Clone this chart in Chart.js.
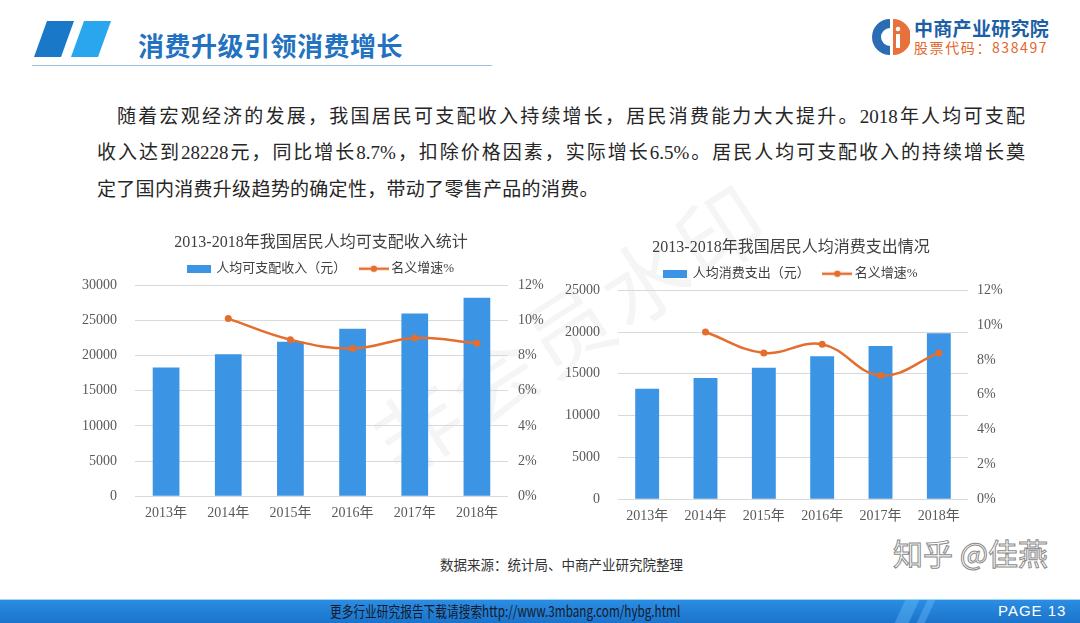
<!DOCTYPE html>
<html>
<head>
<meta charset="utf-8">
<script src="https://cdn.jsdelivr.net/npm/chart.js@4.4.1/dist/chart.umd.min.js"></script>
<style>
  body { margin: 0; width: 1080px; height: 623px; overflow: hidden; background: #fff; position: relative; font-family: "Noto Sans CJK SC", sans-serif; }
  .abs { position: absolute; white-space: nowrap; }
  .headTitle { left: 138px; top: 29px; font-size: 26px; line-height: 32px; font-weight: bold; color: #2272c0; letter-spacing: 0.5px; }
  .headLine { left: 32px; top: 65px; width: 460px; height: 1px; background: #9cc3e3; }
  .logoName { left: 914px; top: 16px; font-size: 19px; line-height: 24px; font-weight: bold; color: #1d5fa6; letter-spacing: 0.3px; }
  .logoCode { left: 914px; top: 38px; font-size: 14px; line-height: 18px; color: #e2672a; letter-spacing: 1.6px; }
  .para { font-family: "Liberation Serif", "Noto Sans CJK SC", serif; font-size: 19px; line-height: 24px; color: #262626; }
  .justify { text-align: justify; text-align-last: justify; white-space: normal; }
  .wm { left: 345px; top: 395px; font-size: 86px; color: rgba(0,0,0,0.04); transform: rotate(-33deg); transform-origin: left top; letter-spacing: 4px; }
  .src { left: 440px; top: 557px; font-family: "Liberation Serif", "Noto Sans CJK SC", serif; font-size: 13.5px; line-height: 18px; color: #333; }
  .zhihu { left: 893px; top: 533px; font-size: 30px; line-height: 38px; color: #fff; -webkit-text-stroke: 1px #8a8a8a; }
  .footer { left: 0; top: 599px; width: 1080px; height: 24px; background: linear-gradient(#2b8de2, #1a72c9); border-top: 1px solid #9fd8f7; }
  .stripe { top: 600px; height: 23px; background: rgba(120,200,255,0.35); transform: skewX(-25deg); }
  .footText { left: 330px; top: 601px; font-size: 15px; line-height: 20px; color: #141a2a; transform: scaleX(0.78); transform-origin: left top; }
  .page { left: 998px; top: 601px; font-family: "Liberation Sans", sans-serif; font-size: 15px; line-height: 20px; color: #fff; letter-spacing: 1px; }
  canvas { position: absolute; }
</style>
</head>
<body>

<svg class="abs" style="left:0;top:0" width="120" height="64">
  <polygon points="47,21 74,21 61,57 34,57" fill="#1a78c9"/>
  <polygon points="84,21 111,21 98,57 71,57" fill="#2aa6ee"/>
</svg>
<div class="abs headTitle">消费升级引领消费增长</div>
<div class="abs headLine"></div>

<svg class="abs" style="left:872px;top:16px" width="38" height="42" viewBox="0 0 38 42">
  <path d="M18 3 A18 18 0 0 0 18 39 L18 30 A9 9 0 0 1 18 12 Z" fill="#2a6db5"/>
  <path d="M21 3 A18 18 0 0 1 21 39 Z" fill="#e8703a"/>
  <rect x="24" y="18" width="4" height="14" fill="#fff"/>
  <circle cx="26" cy="13" r="2.3" fill="#fff"/>
</svg>
<div class="abs logoName">中商产业研究院</div>
<div class="abs logoCode">股票代码：838497</div>

<div class="abs para justify" style="left:117px;top:105px;width:908px">随着宏观经济的发展，我国居民可支配收入持续增长，居民消费能力大大提升。2018年人均可支配</div>
<div class="abs para justify" style="left:97px;top:141px;width:928px">收入达到28228元，同比增长8.7%，扣除价格因素，实际增长6.5%。居民人均可支配收入的持续增长奠</div>
<div class="abs para" style="left:97px;top:178px;letter-spacing:0.3px">定了国内消费升级趋势的确定性，带动了零售产品的消费。</div>

<div class="abs wm">非会员水印</div>

<canvas id="incomeChart" width="502" height="301" style="left:70px;top:222px"></canvas>
<canvas id="spendChart" width="462" height="296" style="left:560px;top:230px"></canvas>

<div class="abs src">数据来源：统计局、中商产业研究院整理</div>
<div class="abs zhihu">知乎 @佳燕</div>

<div class="abs footer"></div>
<div class="abs stripe" style="left:900px;width:14px"></div>
<div class="abs stripe" style="left:922px;width:8px"></div>
<div class="abs footText">更多行业研究报告下载请搜索http://www.3mbang.com/hybg.html</div>
<div class="abs page">PAGE 13</div>

<script>
// 数据
const years = ["2013年", "2014年", "2015年", "2016年", "2017年", "2018年"];
const incomeValues = [18311, 20167, 21966, 23821, 25974, 28228];
const incomeGrowth = [null, 10.1, 8.9, 8.4, 9.0, 8.7];
const spendValues = [13220, 14491, 15712, 17111, 18322, 19853];
const spendGrowth = [null, 9.6, 8.4, 8.9, 7.1, 8.4];
const pctTicks = [0, 2, 4, 6, 8, 10, 12];

const barBlue = "#3c95e4";
const lineOrange = "#e56d2e";
const fontFamily = '"Liberation Serif", "Noto Sans CJK SC", serif';

// 图例小图标
function barSwatch() {
  const c = document.createElement("canvas");
  c.width = 24; c.height = 8;
  const g = c.getContext("2d");
  g.fillStyle = barBlue;
  g.fillRect(0, 0, 24, 8);
  return c;
}
function lineSwatch() {
  const c = document.createElement("canvas");
  c.width = 30; c.height = 8;
  const g = c.getContext("2d");
  g.strokeStyle = lineOrange;
  g.lineWidth = 2.5;
  g.beginPath(); g.moveTo(0, 4); g.lineTo(30, 4); g.stroke();
  g.fillStyle = lineOrange;
  g.beginPath(); g.arc(15, 4, 3.2, 0, Math.PI * 2); g.fill();
  return c;
}

function makeChart(id, opt) {
  const ctx = document.getElementById(id).getContext("2d");
  return new Chart(ctx, {
    data: {
      labels: years,
      datasets: [
        {
          type: "bar",
          label: opt.barLabel,
          data: opt.bars,
          backgroundColor: barBlue,
          yAxisID: "y",
          barPercentage: opt.barPct,
          categoryPercentage: 1,
          order: 2,
        },
        {
          type: "line",
          label: "名义增速%",
          data: opt.growth,
          borderColor: lineOrange,
          backgroundColor: lineOrange,
          borderWidth: 2.5,
          pointRadius: 3.5,
          pointBorderWidth: 0,
          pointBackgroundColor: lineOrange,
          tension: 0.4,
          yAxisID: "y1",
          order: 1,
        },
      ],
    },
    options: {
      responsive: false,
      animation: false,
      layout: { padding: { left: 0, right: 0, top: 0, bottom: 0 } },
      plugins: {
        tooltip: { enabled: false },
        title: {
          display: true,
          text: opt.title,
          color: "#404040",
          font: { family: fontFamily, size: 16, weight: "normal" },
          padding: { top: opt.titleTop, bottom: 0 },
        },
        legend: {
          display: true,
          labels: {
            usePointStyle: true,
            pointStyleWidth: 22,
            padding: 10,
            color: "#404040",
            font: { family: fontFamily, size: 13 },
            generateLabels: () => [
              { text: opt.barLabel + "　", pointStyle: barSwatch(), fillStyle: barBlue, strokeStyle: barBlue, lineWidth: 0, fontColor: "#404040", hidden: false, datasetIndex: 0 },
              { text: "名义增速%", pointStyle: lineSwatch(), fillStyle: lineOrange, strokeStyle: lineOrange, lineWidth: 0, fontColor: "#404040", hidden: false, datasetIndex: 1 },
            ],
          },
        },
      },
      scales: {
        x: {
          grid: { display: false },
          border: { display: false },
          ticks: { color: "#595959", font: { family: fontFamily, size: 14 }, padding: 1 },
        },
        y: {
          position: "left",
          min: 0,
          max: opt.yMax,
          ticks: { stepSize: 5000, color: "#595959", font: { family: fontFamily, size: 14 }, padding: 18, callback: (v) => String(v) },
          grid: { color: "#d9d9d9", drawTicks: false },
          border: { display: false },
          afterFit: (s) => { s.width = opt.leftW; },
        },
        y1: {
          position: "right",
          min: 0,
          max: 12,
          afterBuildTicks: (s) => { s.ticks = pctTicks.map((v) => ({ value: v })); },
          ticks: { color: "#595959", font: { family: fontFamily, size: 14 }, padding: opt.rightPad, callback: (v) => v + "%" },
          grid: { display: false, drawTicks: false },
          border: { display: false },
          afterFit: (s) => { s.width = opt.rightW; },
        },
      },
    },
  });
}

makeChart("incomeChart", {
  title: "2013-2018年我国居民人均可支配收入统计",
  barLabel: "人均可支配收入（元）",
  bars: incomeValues,
  growth: incomeGrowth,
  yMax: 30000,
  barPct: 0.43,
  leftW: 65,
  rightW: 64,
  rightPad: 10,
  titleTop: 11,
});

makeChart("spendChart", {
  title: "2013-2018年我国居民人均消费支出情况",
  barLabel: "人均消费支出（元）",
  bars: spendValues,
  growth: spendGrowth,
  yMax: 25000,
  barPct: 0.41,
  leftW: 58,
  rightW: 54,
  rightPad: 9,
  titleTop: 8,
});
</script>
</body>
</html>
